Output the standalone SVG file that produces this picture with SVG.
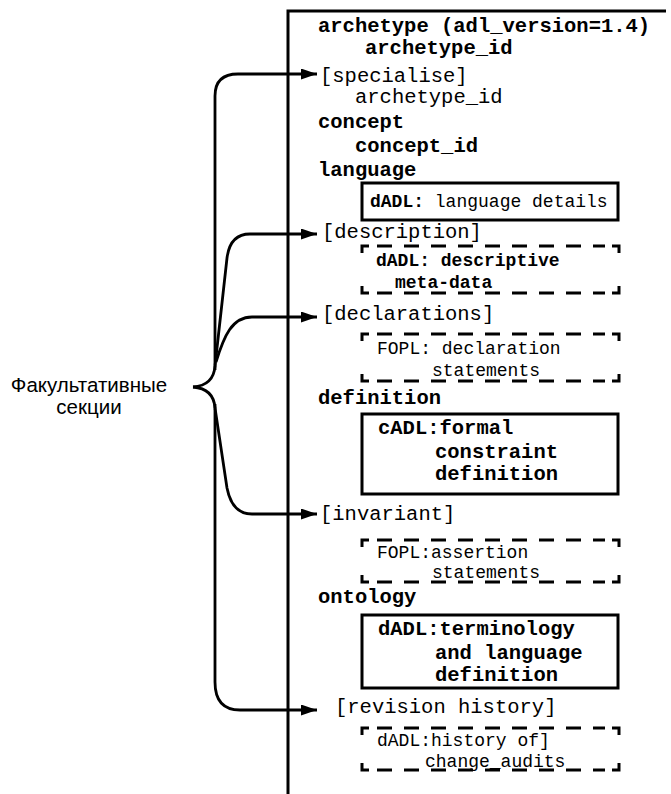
<svg xmlns="http://www.w3.org/2000/svg" width="671" height="794" viewBox="0 0 671 794">
<style>
text{font-family:"Liberation Mono","DejaVu Sans Mono",monospace;fill:#000}
.m{font-size:20.5px}
.s{font-size:18px}
.b{font-weight:bold}
.lab{font-family:"Liberation Sans",Arial,sans-serif;font-size:20.5px;text-anchor:middle}
.frame{fill:none;stroke:#000;stroke-width:3}
.box{fill:none;stroke:#000;stroke-width:3}
.corner{fill:none;stroke:#000;stroke-width:3}
.dash{fill:none;stroke:#000;stroke-width:3;stroke-dasharray:15 12}
.conn{fill:none;stroke:#000;stroke-width:2.8}
</style>
<defs>
<marker id="arr" markerUnits="userSpaceOnUse" markerWidth="17" markerHeight="12" refX="16" refY="5.5" orient="auto">
<path d="M0,0 L16,5.5 L0,11 z" fill="#000"/>
</marker>
</defs>

<g id="frame">
<path class="frame" d="M288,794 V11 H666"/>
</g>

<g id="header">
<text class="m b" x="318" y="32">archetype (adl_version=1.4)</text>
<text class="m b" x="365" y="54">archetype_id</text>
</g>

<g id="specialise">
<text class="m" x="320" y="82">[specialise]</text>
<text class="m" x="355" y="103">archetype_id</text>
</g>

<g id="concept">
<text class="m b" x="318" y="128">concept</text>
<text class="m b" x="355" y="152">concept_id</text>
</g>

<g id="language">
<text class="m b" x="318" y="176">language</text>
<rect class="box" x="362" y="183" width="256" height="37"/>
<text class="s" x="370" y="207"><tspan class="b">dADL:</tspan> language details</text>
</g>

<g id="description">
<text class="m" x="322" y="238">[description]</text>
<path class="corner" d="M362,253 V246 H369 M612,246 H619 V253 M362,286 V293 H369 M612,293 H619 V286"/>
<path class="dash" d="M377,246 H605 M377,293 H605"/>
<text class="s b" x="376" y="266">dADL: descriptive</text>
<text class="s b" x="395" y="288">meta-data</text>
</g>

<g id="declarations">
<text class="m" x="322" y="320">[declarations]</text>
<path class="corner" d="M362,341 V334 H369 M612,334 H619 V341 M362,374 V381 H369 M612,381 H619 V374"/>
<path class="dash" d="M377,334 H605 M377,381 H605"/>
<text class="s" x="377" y="354">FOPL: declaration</text>
<text class="s" x="432" y="376">statements</text>
</g>

<g id="definition">
<text class="m b" x="318" y="404">definition</text>
<rect class="box" x="362" y="414" width="256" height="80"/>
<text class="m b" x="378" y="434">cADL:formal</text>
<text class="m b" x="435" y="458">constraint</text>
<text class="m b" x="435" y="480">definition</text>
</g>

<g id="invariant">
<text class="m" x="320" y="520">[invariant]</text>
<path class="corner" d="M362,547 V540 H369 M612,540 H619 V547 M362,575 V582 H369 M612,582 H619 V575"/>
<path class="dash" d="M377,540 H605 M377,582 H605"/>
<text class="s" x="377" y="558">FOPL:assertion</text>
<text class="s" x="432" y="578">statements</text>
</g>

<g id="ontology">
<text class="m b" x="318" y="603">ontology</text>
<rect class="box" x="362" y="615" width="256" height="73"/>
<text class="m b" x="378" y="635">dADL:terminology</text>
<text class="m b" x="435" y="659">and language</text>
<text class="m b" x="435" y="681">definition</text>
</g>

<g id="revision">
<text class="m" x="335" y="713">[revision history]</text>
<path class="corner" d="M362,735 V728 H369 M612,728 H619 V735 M362,763 V770 H369 M612,770 H619 V763"/>
<path class="dash" d="M377,728 H605 M377,770 H605"/>
<text class="s" x="377" y="746">dADL:history of]</text>
<text class="s" x="425" y="767">change_audits</text>
</g>

<g id="optional-label">
<text class="lab" x="89" y="392">Факультативные</text>
<text class="lab" x="89" y="414">секции</text>
</g>

<g id="connectors">
<path class="conn" d="M193,387 C206,386 214,380 215,366"/>
<path class="conn" d="M193,387 C206,388 214,394 215,408"/>
<path class="conn" marker-end="url(#arr)" d="M215,370 V96 Q215,74 238,74 H317"/>
<path class="conn" marker-end="url(#arr)" d="M215,366 L227,258 Q230,234 250,234 H317"/>
<path class="conn" marker-end="url(#arr)" d="M216,362 C224,336 232,317 252,317 H317"/>
<path class="conn" marker-end="url(#arr)" d="M215,408 L227,488 Q232,514 252,514 H317"/>
<path class="conn" marker-end="url(#arr)" d="M215,404 V682 Q215,710 240,710 H317"/>
</g>
</svg>
